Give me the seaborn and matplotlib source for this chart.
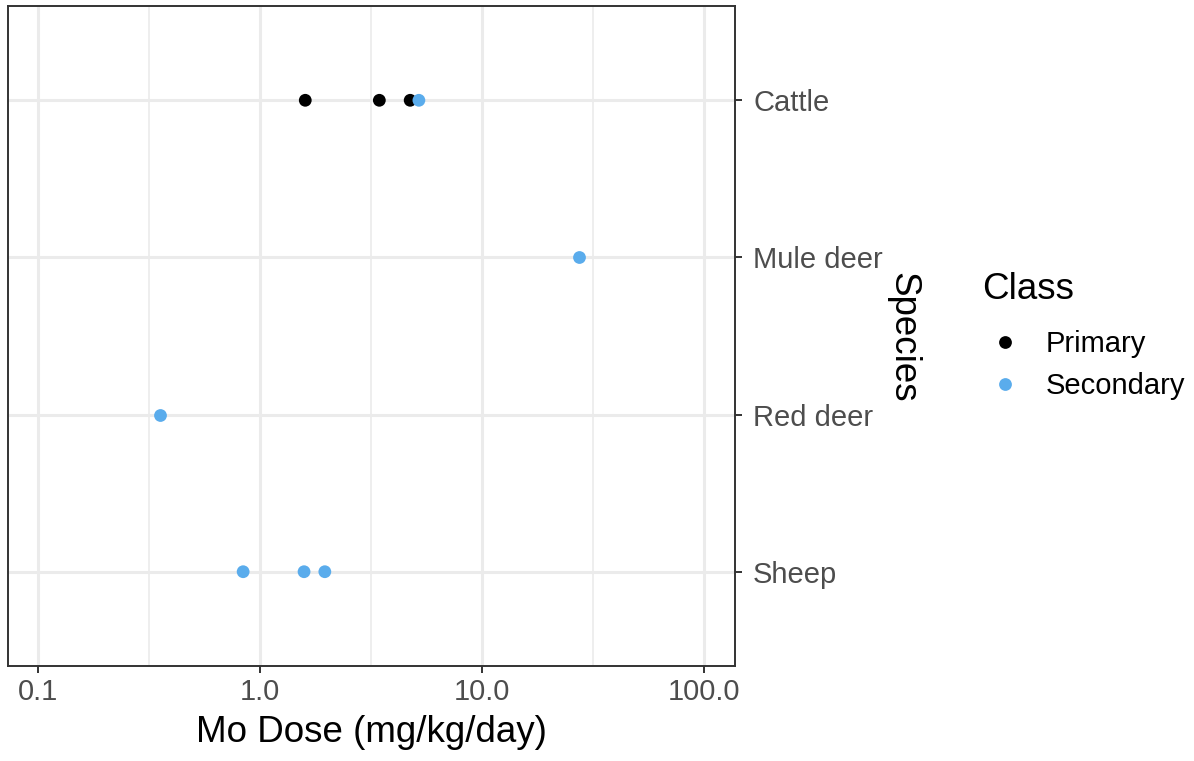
import numpy as np
import pandas as pd
import matplotlib
matplotlib.use("Agg")
import matplotlib.pyplot as plt
import seaborn as sns
from matplotlib.lines import Line2D

# Molybdenum doses by species and study class
species = ["Cattle", "Cattle", "Cattle", "Cattle",
           "Mule deer", "Red deer",
           "Sheep", "Sheep", "Sheep"]
dose = [1.6, 3.45, 4.75, 5.2,
        27.5, 0.355,
        0.84, 1.58, 1.96]
klass = ["Primary", "Primary", "Primary", "Secondary",
         "Secondary", "Secondary",
         "Secondary", "Secondary", "Secondary"]

species_order = ["Cattle", "Mule deer", "Red deer", "Sheep"]
class_order = ["Primary", "Secondary"]
class_colors = {"Primary": "#000000", "Secondary": "#5AACEC"}

x_ticks = [0.1, 1.0, 10.0, 100.0]
x_tick_labels = ["0.1", "1.0", "10.0", "100.0"]
x_minor = [10 ** -0.5, 10 ** 0.5, 10 ** 1.5]

df = pd.DataFrame({"Species": species, "Dose": dose, "Class": klass})

sns.set_theme(style="white")
plt.rcParams["font.family"] = ["Liberation Sans", "DejaVu Sans"]
plt.rcParams["text.color"] = "black"

W, H = 1194, 761
fig = plt.figure(figsize=(W / 100, H / 100), dpi=100)
ax = fig.add_axes([8 / W, (H - 666) / H, (735 - 8) / W, (666 - 6) / H])

sns.stripplot(data=df, x="Dose", y="Species", hue="Class",
              order=species_order, hue_order=class_order,
              palette=class_colors, jitter=False, dodge=False,
              size=9.2, linewidth=0, log_scale=True, legend=False,
              ax=ax, zorder=3)

ax.set_xlim(10 ** -1.135, 10 ** 2.14)
ax.set_ylim(len(species_order) - 1 + 0.6, -0.6)

# grid lines drawn under the points
ax.set_xticks(x_ticks)
ax.set_xticklabels(x_tick_labels)
ax.set_xticks(x_minor, minor=True)
ax.xaxis.set_minor_formatter(matplotlib.ticker.NullFormatter())
ax.tick_params(axis="x", which="minor", length=0)
ax.set_axisbelow(True)
ax.grid(True, which="major", color="#EBEBEB", linewidth=2.2)
ax.grid(True, which="minor", axis="x", color="#EBEBEB", linewidth=1.2)

ax.yaxis.tick_right()
ax.tick_params(axis="both", which="major", length=5, width=1.4,
               color="#333333", labelcolor="#4D4D4D", labelsize=21, pad=4,
               bottom=True, right=True, left=False)
ax.tick_params(axis="y", pad=8)

for s in ax.spines.values():
    s.set_color("#333333")
    s.set_linewidth(1.4)

ax.set_xlabel("Mo Dose (mg/kg/day)", fontsize=26.5, color="black", labelpad=6)
ax.set_ylabel("")
fig.text(903 / W, 1 - 337 / H, "Species", rotation=270, fontsize=26.5,
         ha="center", va="center", color="black")

handles = [Line2D([], [], marker="o", linestyle="", markersize=9.2,
                  markerfacecolor=class_colors[c], markeredgewidth=0,
                  label=c) for c in class_order]
leg = fig.legend(handles=handles, title="Class", loc="upper left",
                 bbox_to_anchor=(970 / W, 1 - 260 / H), frameon=False,
                 fontsize=21, title_fontsize=26.5, handletextpad=0.6,
                 handlelength=1.6, labelspacing=0.48, borderaxespad=0,
                 labelcolor="black")
leg.get_title().set_color("black")
leg._legend_box.align = "left"
leg._legend_box.sep += 7

fig.savefig("out.png", dpi=100)
